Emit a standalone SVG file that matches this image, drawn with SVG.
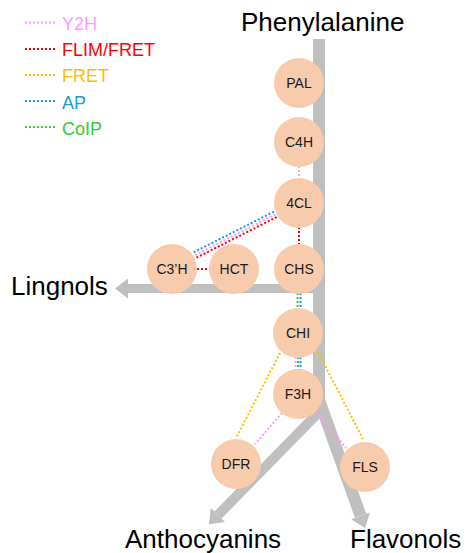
<svg xmlns="http://www.w3.org/2000/svg" width="467" height="553" viewBox="0 0 467 553">
<style>
.bar{fill:none;stroke:#BFBFBF;stroke-linejoin:miter}
.node circle{fill:#F8CBAD}
.node text{font-family:"Liberation Sans",Arial,sans-serif;font-size:14px;fill:#1a1a1a;text-anchor:middle}
.big{font-family:"Liberation Sans",Arial,sans-serif;font-size:26px;fill:#000}
.leg{font-family:"Liberation Sans",Arial,sans-serif;font-size:18px}
.dot{fill:none;stroke-width:2;stroke-dasharray:2 2}
.y2h{stroke:#FF99FF}
.flim{stroke:#FF0000}
.fret{stroke:#FFC000}
.ap{stroke:#1A9BD7}
.coip{stroke:#33CC33}
</style>
<defs>
<marker id="ah" markerUnits="userSpaceOnUse" markerWidth="30" markerHeight="30" refX="0" refY="0" viewBox="0 -15 15 30" orient="auto" overflow="visible">
<path d="M0,-10 L13,0 L0,10 z" fill="#BFBFBF"/>
</marker>
</defs>
<rect width="467" height="553" fill="#fff"/>
<g id="legend">
<line class="dot y2h" x1="25" y1="22.5" x2="55" y2="22.5"/>
<text class="leg" x="62" y="29.5" fill="#FF99FF">Y2H</text>
<line class="dot flim" x1="25" y1="49" x2="55" y2="49"/>
<text class="leg" x="62" y="56" fill="#FF0000">FLIM/FRET</text>
<line class="dot fret" x1="25" y1="75" x2="55" y2="75"/>
<text class="leg" x="62" y="82" fill="#FFC000">FRET</text>
<line class="dot ap" x1="25" y1="101" x2="55" y2="101"/>
<text class="leg" x="62" y="108.5" fill="#1A9BD7">AP</text>
<line class="dot coip" x1="25" y1="127" x2="55" y2="127"/>
<text class="leg" x="62" y="135" fill="#33CC33">CoIP</text>
</g>
<g id="pathways">
<path class="bar" stroke-width="9" d="M325,288.5 L128,288.5" marker-end="url(#ah)"/>
<path class="bar" stroke-width="10" d="M321,410 L218,515" marker-end="url(#ah)"/>
<path class="bar" stroke-width="12" d="M319,39 L319,400 L360.6,515.8" marker-end="url(#ah)"/>
</g>
<g id="connectors">
<line class="dot y2h" x1="299" y1="166" x2="299" y2="179"/>
<line class="dot flim" x1="299" y1="227" x2="299" y2="244"/>
<line class="dot flim" x1="197" y1="269" x2="212" y2="269"/>
<line class="dot ap" x1="193.6" y1="252.3" x2="274.6" y2="211.3"/>
<line class="dot y2h" x1="195" y1="255" x2="276" y2="214"/>
<line class="dot flim" x1="196.4" y1="257.7" x2="277.4" y2="216.7"/>
<line class="dot coip" x1="297.5" y1="293" x2="297.5" y2="309"/>
<line class="dot ap" x1="300.5" y1="293" x2="300.5" y2="309"/>
<line class="dot y2h" x1="295.5" y1="357" x2="295.5" y2="370"/>
<line class="dot coip" x1="298" y1="357" x2="298" y2="370"/>
<line class="dot ap" x1="300.5" y1="357" x2="300.5" y2="370"/>
<line class="dot fret" x1="280" y1="353" x2="236" y2="438"/>
<line class="dot fret" x1="318" y1="352" x2="363" y2="439"/>
<line class="dot y2h" x1="282" y1="413" x2="255" y2="444"/>
<line class="dot y2h" x1="317" y1="413" x2="346" y2="448"/>
</g>
<g id="PAL" class="node"><circle cx="299" cy="83" r="25"/><text x="299" y="88">PAL</text></g>
<g id="C4H" class="node"><circle cx="299" cy="142" r="25"/><text x="299" y="147">C4H</text></g>
<g id="4CL" class="node"><circle cx="299" cy="203" r="25"/><text x="299" y="208">4CL</text></g>
<g id="CHS" class="node"><circle cx="299" cy="269" r="25"/><text x="299" y="274">CHS</text></g>
<g id="HCT" class="node"><circle cx="234" cy="269" r="25"/><text x="234" y="274">HCT</text></g>
<g id="C3H" class="node"><circle cx="172" cy="269" r="25"/><text x="172" y="274">C3’H</text></g>
<g id="CHI" class="node"><circle cx="298" cy="333" r="25"/><text x="298" y="338">CHI</text></g>
<g id="F3H" class="node"><circle cx="298" cy="394" r="25"/><text x="298" y="399">F3H</text></g>
<g id="DFR" class="node"><circle cx="236" cy="464" r="25"/><text x="236" y="469">DFR</text></g>
<g id="FLS" class="node"><circle cx="365" cy="467" r="25"/><text x="365" y="472">FLS</text></g>
<g id="labels">
<text class="big" x="241" y="31">Phenylalanine</text>
<text class="big" x="11" y="295">Lingnols</text>
<text class="big" x="125" y="548">Anthocyanins</text>
<text class="big" x="350" y="548">Flavonols</text>
</g>
</svg>
